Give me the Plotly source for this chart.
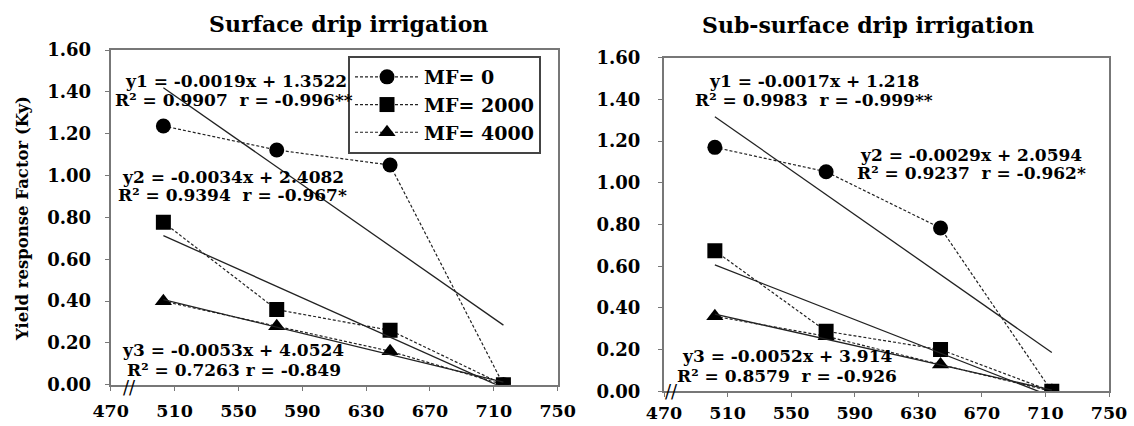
import numpy as np
import plotly.graph_objects as go

# ---------------- data ----------------
water_surface = [503, 574, 645, 716]
water_subsurface = [502, 572, 644, 714]

surface_mf0 = [1.237, 1.122, 1.050, 0.00]
surface_mf2000 = [0.776, 0.359, 0.260, 0.00]
surface_mf4000 = [0.399, 0.279, 0.160, 0.00]

subsurface_mf0 = [1.170, 1.053, 0.783, 0.00]
subsurface_mf2000 = [0.674, 0.288, 0.200, 0.00]
subsurface_mf4000 = [0.360, 0.264, 0.128, 0.00]

series_names = ["MF= 0", "MF= 2000", "MF= 4000"]
x_ticks = [470, 510, 550, 590, 630, 670, 710, 750]
y_ticks = [0.0, 0.2, 0.4, 0.6, 0.8, 1.0, 1.2, 1.4, 1.6]

surface_labels = [
    "y1 = -0.0019x + 1.3522", "R² = 0.9907  r = -0.996**",
    "y2 = -0.0034x + 2.4082", "R² = 0.9394  r = -0.967*",
    "y3 = -0.0053x + 4.0524", "R² = 0.7263 r = -0.849",
]
subsurface_labels = [
    "y1 = -0.0017x + 1.218", "R² = 0.9983  r = -0.999**",
    "y2 = -0.0029x + 2.0594", "R² = 0.9237  r = -0.962*",
    "y3 = -0.0052x + 3.914", "R² = 0.8579  r = -0.926",
]

# ---------------- styling ----------------
FONT = "DejaVu Serif"
symbols = ["circle", "square", "triangle-up"]
fig = go.Figure()


def add_panel(xvals, series, xa, ya, showlegend):
    # draw order: 4000, 0, 2000 so the square sits on top at the last point
    order = [2, 0, 1]
    for i in order:
        yv = series[i]
        fig.add_trace(go.Scatter(
            x=xvals, y=yv, mode="lines+markers", name=series_names[i],
            legendrank=i + 1, legendgroup=f"g{i}",
            line=dict(color="#222222", width=1.2, dash="3px,2px"),
            marker=dict(symbol=symbols[i], size=15, color="black"),
            showlegend=showlegend, xaxis=xa, yaxis=ya,
        ))
    for i in range(3):
        slope, icpt = np.polyfit(xvals, series[i], 1)
        xs = [xvals[0], xvals[-1]]
        fig.add_trace(go.Scatter(
            x=xs, y=[slope * v + icpt for v in xs], mode="lines",
            line=dict(color="#222222", width=1.3), showlegend=False,
            hoverinfo="skip", xaxis=xa, yaxis=ya,
        ))


add_panel(water_surface, [surface_mf0, surface_mf2000, surface_mf4000], "x", "y", True)
add_panel(water_subsurface, [subsurface_mf0, subsurface_mf2000, subsurface_mf4000], "x2", "y2", False)

tickfont = dict(family=FONT, size=18, color="black", weight="bold")
xtickfont = dict(family=FONT, size=17.5, color="black", weight="bold")
common_x = dict(range=[470, 750], tickvals=x_ticks, ticks="outside", ticklen=4,
                tickcolor="#777", showline=True, linecolor="#777", linewidth=2,
                mirror=True, showgrid=False, zeroline=False, tickfont=xtickfont,
                fixedrange=True, automargin=False)
common_y = dict(range=[0, 1.6], tickvals=y_ticks, tickformat=".2f", ticks="outside",
                ticklen=4, tickcolor="#777", showline=True, linecolor="#777",
                linewidth=2, mirror=True, showgrid=False, zeroline=False,
                tickfont=tickfont, fixedrange=True, automargin=False)

fig.update_layout(
    width=1134, height=426,
    margin=dict(l=0, r=0, t=0, b=0),
    paper_bgcolor="white", plot_bgcolor="white",
    xaxis=dict(domain=[110.7 / 1134, 557.7 / 1134], anchor="y",
               ticklabelstandoff=5, **common_x),
    yaxis=dict(domain=[1 - 384.7 / 426, 1 - 50 / 426], anchor="x",
               ticklabelstandoff=10, **common_y),
    xaxis2=dict(domain=[664 / 1134, 1109 / 1134], anchor="y2",
                ticklabelstandoff=1, **common_x),
    yaxis2=dict(domain=[1 - 391.3 / 426, 1 - 57.7 / 426], anchor="x2",
                ticklabelstandoff=14, **common_y),
    legend=dict(x=348 / 1134, y=1 - 56 / 426, xanchor="left", yanchor="top",
                bgcolor="white", bordercolor="#444", borderwidth=2,
                font=dict(family=FONT, size=19, color="black", weight="bold"),
                itemwidth=64, tracegroupgap=5, traceorder="normal"),
    showlegend=True,
)

ann_font = dict(family=FONT, size=17, color="black", weight="bold")
surface_pos = [(548.2, 1.452), (547.2, 1.361), (546.3, 0.994), (546.6, 0.907),
               (546.9, 0.167), (547.2, 0.072)]
subsurface_pos = [(564.4, 1.488), (564.4, 1.397), (662.9, 1.133), (663.5, 1.046),
                  (547.7, 0.168), (547.7, 0.072)]
for txt, (px, py) in zip(surface_labels, surface_pos):
    fig.add_annotation(x=px, y=py, xref="x", yref="y", text=txt, showarrow=False,
                       xanchor="center", yanchor="middle", font=ann_font)
for txt, (px, py) in zip(subsurface_labels, subsurface_pos):
    fig.add_annotation(x=px, y=py, xref="x2", yref="y2", text=txt, showarrow=False,
                       xanchor="center", yanchor="middle", font=ann_font)

# axis break marks
fig.add_annotation(x=482, y=0, xref="x", yref="y", text="//", showarrow=False,
                   xanchor="center", yanchor="middle", yshift=-3,
                   font=dict(family=FONT, size=18, color="black"))
fig.add_annotation(x=475, y=0, xref="x2", yref="y2", text="//", showarrow=False,
                   xanchor="center", yanchor="middle",
                   font=dict(family=FONT, size=18, color="black"))

# panel titles
title_font = dict(family=FONT, size=22, color="black", weight="bold")
fig.add_annotation(x=348 / 1134, y=1 - 24 / 426, xref="paper", yref="paper",
                   xanchor="center", yanchor="middle",
                   text="Surface drip irrigation", showarrow=False, font=title_font)
fig.add_annotation(x=867.5 / 1134, y=1 - 25 / 426, xref="paper", yref="paper",
                   xanchor="center", yanchor="middle",
                   text="Sub-surface drip irrigation", showarrow=False, font=title_font)

# y-axis title
fig.add_annotation(x=22 / 1134, y=1 - 219 / 426, xref="paper", yref="paper",
                   xanchor="center", yanchor="middle",
                   text="Yield response Factor (Ky)", textangle=-90, showarrow=False,
                   font=dict(family=FONT, size=16.5, color="black", weight="bold"))

fig.write_html("out.html", config={"displayModeBar": False},
               post_script="document.body.style.margin='0px';")
